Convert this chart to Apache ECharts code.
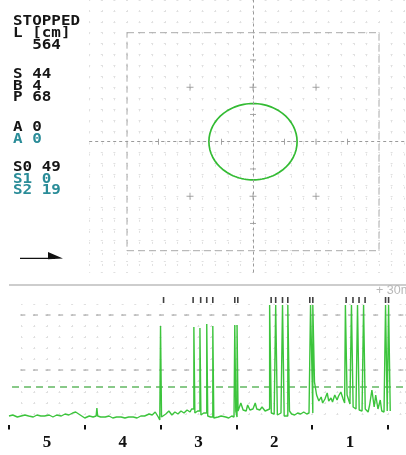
<!DOCTYPE html>
<html><head><meta charset="utf-8">
<script src="https://cdn.jsdelivr.net/npm/echarts@6/dist/echarts.min.js"></script>
<style>html,body{margin:0;padding:0;background:#fff}#c{width:406px;height:455px}</style>
</head><body><div id="c"></div>
<script>
// ---------------- data ----------------
const infoText = ['STOPPED', 'L [cm]', '  564', 'S 44', 'B 4', 'P 68', 'A 0', 'A 0', 'S0 49', 'S1 0', 'S2 19'];
const infoTeal = [false, false, false, false, false, false, false, true, false, true, true];

// top panel (units of grid divisions)
const circleCenter = [0, 0];
const circleRadius = 1.4;
const frameX = [-4, 4];
const frameY = [-4, 4];
const crossPts = [[-2, 2], [0, 2], [2, 2], [-2, -2], [0, -2], [2, -2]];
const hTicks = [-3, -2, -1, 1, 2, 3];
const vTicks = [-3, -1, 1, 3];

// bottom panel
const sectionLabels = ['5', '4', '3', '2', '1'];
const baseX = [0,5,11,16,21,26,32,37,42,47,53,58,63,69,74,79,84,88,92,96,100,106,111,115,116,117,121,127,132,137,142,148,153,158,164,169,174,179,185,189,193,197,199,
  203,207,211,215,219,223,227,231,235,239,241,247,249,255,257,264,266,
  272,276,280,282,286,290,294,297,
  303,306,309,313,315,318,322,325,327,331,334,338,340,347,350,355,359,364,
  371,373,377,381,385,389,393,396,
  404,406,409,412,414,417,420,422,425,427,430,433,435,438,441,443,447,450,455,458,463,466,
  471,474,476,479,482,484,487,490,492,495,504];
const baseV = [9,10,8,9,10,9,8,10,9,9,10,8,10,9,11,10,12,13,11,9,7,9,8,9,17,9,8,8,9,7,8,8,7,8,8,7,9,9,11,10,13,8,5,
  8,11,14,10,13,11,14,12,15,13,16,12,14,10,12,9,8,
  7,8,9,11,8,7,9,8,
  14,22,15,14,20,15,16,22,16,15,18,14,16,12,11,10,12,9,
  14,11,10,12,11,13,11,12,
  43,30,24,28,22,26,32,24,27,23,30,25,29,33,26,22,30,21,18,16,15,14,
  16,13,20,35,18,30,16,25,14,13,14];
const spikeX = [200, 244, 252, 261, 269, 298, 301, 344, 352, 361, 368, 398, 401, 444, 452, 460, 468, 497, 501];
const spikeTop = [99, 98, 97, 101, 99, 100, 100, 120, 120, 120, 120, 120, 120, 120, 120, 120, 120, 120, 120];
const markerX = [204, 243, 253, 261, 269, 298, 302, 346, 352, 361, 368, 397, 401, 445, 454, 462, 470, 497, 501];
const markerLevel = 125;
const refLevels = [110, 55];
const alarmLevel = 38;
const rangeNote = '+ 30m';

// ---------------- build ----------------
const trace = baseX.map((x, i) => [x, baseV[i]]);
spikeX.forEach((sx, i) => {
  let prev = 0, next = baseX.length - 1;
  for (let j = 0; j < baseX.length; j++) if (baseX[j] < sx) prev = j;
  for (let j = baseX.length - 1; j >= 0; j--) if (baseX[j] > sx) next = j;
  const w = spikeTop[i] > 110 ? 2.2 : 1.3;
  trace.push([sx, baseV[prev]], [sx + 0.01, spikeTop[i]], [sx + w, spikeTop[i]], [sx + w + 0.01, baseV[next]]);
});
trace.sort((a, b) => a[0] - b[0]);

const circle = [];
for (let k = 0; k <= 120; k++) {
  const a = k / 120 * Math.PI * 2;
  circle.push([circleCenter[0] + circleRadius * Math.cos(a), circleCenter[1] + circleRadius * Math.sin(a)]);
}
const frame = [[frameX[0], frameY[1]], [frameX[1], frameY[1]], [frameX[1], frameY[0]], [frameX[0], frameY[0]], [frameX[0], frameY[1]]];

const hidden = { axisLine: { show: false }, axisTick: { show: false }, axisLabel: { show: false }, splitLine: { show: false } };
const dotColor = '#e0e0e0';

const graphics = [];
const rowY = [21.5, 33.5, 45.5, 74, 86, 97.5, 127.5, 139, 167.5, 179, 190.5];
infoText.forEach((t, i) => {
  graphics.push({
    type: 'text', x: 13, y: rowY[i], scaleX: 1.18,
    style: { text: t, fontFamily: 'DejaVu Sans Mono', fontWeight: 'bold', fontSize: 13.5,
      fill: infoTeal[i] ? '#2a8c98' : '#151515', verticalAlign: 'middle', textAlign: 'left' }
  });
});
graphics.push({ type: 'line', shape: { x1: 20, y1: 258.3, x2: 55, y2: 258.3 }, style: { stroke: '#111', lineWidth: 1.3 } });
graphics.push({ type: 'polygon', shape: { points: [[48, 252], [63, 258.5], [48, 259.3]] }, style: { fill: '#111' } });
graphics.push({ type: 'line', shape: { x1: 9, y1: 285, x2: 406, y2: 285 }, style: { stroke: '#bdbdbd', lineWidth: 1.4 } });
graphics.push({ type: 'text', x: 376, y: 291, style: { text: rangeNote, fontFamily: 'Liberation Sans', fontSize: 12.5, fill: '#b8b8b8', verticalAlign: 'middle' } });

const option = {
  animation: false,
  backgroundColor: '#fff',
  grid: [
    { left: 89.2, top: -3.5, width: 315, height: 276 },
    { left: 21.6, top: 304, width: 384, height: 110 },
    { left: 9, top: 285, width: 397, height: 140 },
    { left: 9, top: 285, width: 379, height: 140 }
  ],
  xAxis: [
    { gridIndex: 0, type: 'value', min: -5.2, max: 4.8, interval: 0.4, ...hidden,
      splitLine: { show: true, lineStyle: { color: dotColor, width: 1, type: [2, 9.04], dashOffset: 1 } } },
    { gridIndex: 1, type: 'value', min: 0, max: 30.4, interval: 1, ...hidden,
      splitLine: { show: true, lineStyle: { color: dotColor, width: 1, type: [2, 9], dashOffset: 1 } } },
    { gridIndex: 2, type: 'value', min: 0, max: 524, ...hidden },
    { gridIndex: 3, type: 'category', data: sectionLabels, boundaryGap: true,
      axisLine: { show: false }, splitLine: { show: false },
      axisTick: { show: true, length: 4.5, lineStyle: { color: '#111', width: 2 } },
      axisLabel: { show: true, margin: 9, fontFamily: 'Liberation Serif', fontWeight: 'bold', fontSize: 17, color: '#111' } }
  ],
  yAxis: [
    { gridIndex: 0, type: 'value', min: -4.8, max: 5.2, interval: 0.4, ...hidden,
      splitLine: { show: true, lineStyle: { color: dotColor, width: 1, type: [2, 10.6], dashOffset: 1 } } },
    { gridIndex: 1, type: 'value', min: 1, max: 11, interval: 1, ...hidden,
      splitLine: { show: true, lineStyle: { color: dotColor, width: 1, type: [2, 10.63], dashOffset: 1 } } },
    { gridIndex: 2, type: 'value', min: 0, max: 140, ...hidden },
    { gridIndex: 3, type: 'value', min: 0, max: 140, ...hidden }
  ],
  series: [
    { type: 'line', xAxisIndex: 0, yAxisIndex: 0, data: frame, showSymbol: false, silent: true,
      lineStyle: { color: '#aaaaaa', width: 1, type: [7, 4] },
      markLine: { silent: true, symbol: 'none', label: { show: false },
        lineStyle: { color: '#9a9a9a', width: 1, type: [3, 3] },
        data: [{ yAxis: circleCenter[1] }, { xAxis: circleCenter[0] }] } },
    { type: 'scatter', xAxisIndex: 0, yAxisIndex: 0, data: crossPts, silent: true,
      symbol: 'path://M0,2.6H6V3.4H0Z M2.6,0H3.4V6H2.6Z', symbolSize: 7, itemStyle: { color: '#8e8e8e' } },
    { type: 'scatter', xAxisIndex: 0, yAxisIndex: 0, data: hTicks.map(x => [x, 0]), silent: true,
      symbol: 'rect', symbolSize: [1, 6], itemStyle: { color: '#8e8e8e' } },
    { type: 'scatter', xAxisIndex: 0, yAxisIndex: 0, data: vTicks.map(y => [0, y]), silent: true,
      symbol: 'rect', symbolSize: [6, 1], itemStyle: { color: '#8e8e8e' } },
    { type: 'line', xAxisIndex: 0, yAxisIndex: 0, data: circle, showSymbol: false, silent: true, smooth: false,
      lineStyle: { color: '#33bb33', width: 1.7 } },
    // bottom panel reference levels
    ...refLevels.map(v => ({ type: 'line', xAxisIndex: 2, yAxisIndex: 2, data: [[15, v], [524, v]], showSymbol: false, silent: true,
      lineStyle: { color: '#9c9c9c', width: 1, type: [5, 7.6] } })),
    { type: 'line', xAxisIndex: 2, yAxisIndex: 2, data: [[4, alarmLevel], [524, alarmLevel]], showSymbol: false, silent: true,
      lineStyle: { color: '#62b862', width: 1.5, type: [7, 5] } },
    { type: 'line', xAxisIndex: 2, yAxisIndex: 2, data: trace, showSymbol: false, silent: true,
      lineStyle: { color: '#3cc43c', width: 1.4 } },
    { type: 'scatter', xAxisIndex: 2, yAxisIndex: 2, data: markerX.map(x => [x, markerLevel]), silent: true,
      symbol: 'rect', symbolSize: [1.6, 6], itemStyle: { color: '#111' } }
  ],
  graphic: graphics
};
const chart = echarts.init(document.getElementById('c'), null, { renderer: 'canvas' });
chart.setOption(option);
</script></body></html>
